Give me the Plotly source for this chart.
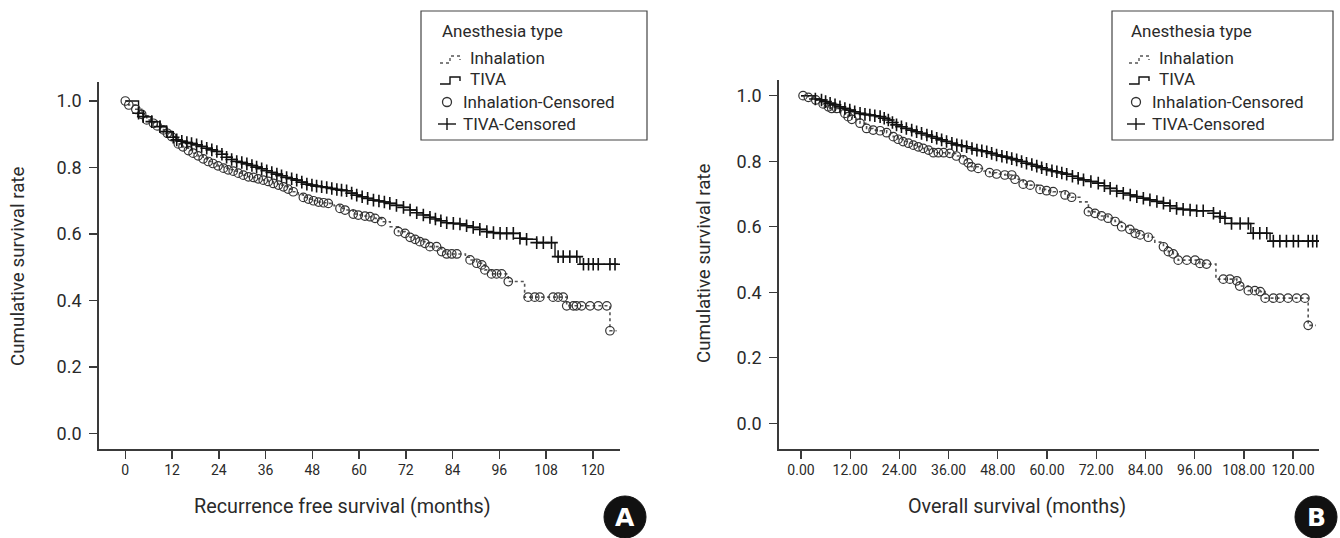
import plotly.graph_objects as go

W, H = 1340, 538

# ---------------- DATA ----------------
x_tick_vals = [0, 12, 24, 36, 48, 60, 72, 84, 96, 108, 120]
x_tick_text_a = ["0", "12", "24", "36", "48", "60", "72", "84", "96", "108", "120"]
x_tick_text_b = ["0.00", "12.00", "24.00", "36.00", "48.00", "60.00", "72.00", "84.00", "96.00", "108.00", "120.00"]
y_tick_vals = [0.0, 0.2, 0.4, 0.6, 0.8, 1.0]
y_tick_text = ["0.0", "0.2", "0.4", "0.6", "0.8", "1.0"]

# Panel A: recurrence free survival — Inhalation censored marks
a_inh_cens_t = [0.0, 0.9, 2.7, 4.2, 5.5, 7.2, 8.2, 9.8, 10.8, 11.9,
                13.6, 14.8, 16.2, 17.4, 18.7, 20.0, 21.3, 22.5, 23.8, 25.2, 26.4, 27.7, 29.0, 30.3,
                31.6, 32.9, 34.1, 35.4, 36.7, 38.0, 39.3, 40.6, 41.8, 43.1,
                45.7, 47.0, 48.3, 49.6, 50.9, 52.1,
                55.1, 56.4, 58.5, 59.8, 61.5, 62.8, 64.1, 65.8,
                70.1, 71.8, 73.1, 74.4, 75.6, 76.9, 78.2,
                79.9, 81.2, 82.5, 83.8, 85.1,
                88.5, 90.2, 91.5, 92.3,
                94.0, 95.3, 96.6, 98.3,
                103.4, 105.1, 106.4, 109.8, 111.1, 112.4,
                113.3, 115.0, 115.8, 117.1, 119.3, 121.4, 123.6, 124.4]
a_inh_cens_s = [1.000, 0.988, 0.975, 0.960, 0.943, 0.933, 0.925, 0.913, 0.903, 0.893,
                0.871, 0.862, 0.851, 0.843, 0.835, 0.826, 0.818, 0.812, 0.805, 0.798, 0.793, 0.789, 0.783, 0.777,
                0.772, 0.770, 0.766, 0.762, 0.758, 0.752, 0.747, 0.742, 0.735, 0.727,
                0.710, 0.705, 0.700, 0.696, 0.694, 0.692,
                0.677, 0.672, 0.660, 0.657, 0.654, 0.652, 0.647, 0.637,
                0.607, 0.602, 0.590, 0.584, 0.577, 0.572, 0.562,
                0.562, 0.547, 0.540, 0.540, 0.540,
                0.522, 0.512, 0.507, 0.492,
                0.480, 0.480, 0.480, 0.457,
                0.410, 0.410, 0.410, 0.410, 0.410, 0.410,
                0.384, 0.384, 0.384, 0.384, 0.384, 0.384, 0.384, 0.309]
# extra step knots (events without censor marks)
a_inh_step_t = [0.0, 44.4, 53.6, 68.0, 87.3, 102.5, 126.1]
a_inh_step_s = [1.000, 0.718, 0.685, 0.622, 0.530, 0.410, 0.309]

# Panel A — TIVA censored marks
a_tiva_cens_t = [3.4, 4.6, 6.8, 8.9, 10.6, 12.3, 13.2, 14.5, 15.8, 17.0,
                 18.3, 19.6, 20.9, 22.2, 23.5, 24.8, 26.0, 27.3, 28.6, 29.9,
                 31.2, 32.5, 33.7, 35.0, 36.3, 37.6, 38.9, 40.1, 41.4, 42.7,
                 44.0, 45.3, 46.6, 47.9, 49.1, 50.4, 51.7, 53.0, 54.3, 55.5,
                 56.8, 58.1, 59.4, 60.8, 62.2, 63.7, 65.1, 66.5, 67.9, 69.6,
                 71.4, 73.1, 74.8, 76.5, 78.2, 79.6, 81.0, 82.5, 84.2, 85.9,
                 87.6, 89.3, 91.0, 92.8, 94.5, 96.2, 97.9, 99.6, 101.3, 103.0,
                 105.6, 107.3, 109.4, 111.1, 112.4, 114.1, 115.9, 117.6, 118.9, 120.1,
                 121.4, 124.4, 125.7]
a_tiva_cens_s = [0.963, 0.953, 0.938, 0.923, 0.908, 0.891, 0.883, 0.879, 0.875, 0.872,
                 0.868, 0.863, 0.858, 0.853, 0.848, 0.840, 0.831, 0.824, 0.818, 0.815,
                 0.811, 0.806, 0.801, 0.796, 0.790, 0.785, 0.780, 0.775, 0.770, 0.766,
                 0.762, 0.756, 0.750, 0.747, 0.744, 0.742, 0.740, 0.737, 0.734, 0.732,
                 0.730, 0.723, 0.717, 0.712, 0.707, 0.702, 0.699, 0.696, 0.692, 0.686,
                 0.680, 0.672, 0.664, 0.657, 0.650, 0.645, 0.640, 0.634, 0.632, 0.630,
                 0.625, 0.620, 0.614, 0.607, 0.604, 0.602, 0.602, 0.602, 0.587, 0.584,
                 0.574, 0.574, 0.574, 0.532, 0.532, 0.532, 0.532, 0.509, 0.509, 0.509,
                 0.509, 0.509, 0.509]
a_tiva_step_t = [0.0, 110.3, 116.7, 126.5]
a_tiva_step_s = [1.000, 0.532, 0.509, 0.509]

# Panel B: overall survival — Inhalation censored marks
b_inh_cens_t = [0.5, 1.8, 3.6, 5.4, 6.7, 7.5, 8.7, 10.7, 11.5, 12.4, 14.4, 16.0, 17.6, 19.3, 20.9, 22.5,
                23.7, 24.9, 26.2, 27.4, 28.6, 29.8, 31.1, 32.3, 33.5, 34.8, 36.3, 37.9, 39.6, 40.8, 41.6, 43.2,
                46.0, 47.7, 49.7, 51.4, 52.2, 54.2, 55.9, 58.3, 59.9, 61.5, 64.4, 66.0,
                70.1, 71.7, 73.3, 74.9, 76.6, 78.2, 80.2, 81.5, 82.7, 84.7,
                88.4, 89.6, 90.8, 92.0, 94.1, 96.1, 97.3, 98.9,
                103.0, 104.6, 106.3, 107.0, 109.1, 110.7, 112.0, 113.2, 115.2, 116.8, 118.8, 120.9, 122.9, 123.7]
b_inh_cens_s = [1.000, 0.995, 0.987, 0.975, 0.966, 0.961, 0.961, 0.946, 0.936, 0.928, 0.916, 0.900, 0.895, 0.893, 0.887, 0.875,
                0.867, 0.860, 0.855, 0.849, 0.844, 0.839, 0.834, 0.826, 0.826, 0.826, 0.824, 0.816, 0.804, 0.795, 0.783, 0.778,
                0.765, 0.761, 0.758, 0.758, 0.745, 0.730, 0.727, 0.714, 0.710, 0.707, 0.697, 0.690,
                0.646, 0.641, 0.633, 0.626, 0.616, 0.600, 0.592, 0.580, 0.575, 0.568,
                0.539, 0.524, 0.517, 0.498, 0.498, 0.498, 0.488, 0.486,
                0.440, 0.440, 0.435, 0.419, 0.405, 0.405, 0.402, 0.382, 0.382, 0.382, 0.382, 0.382, 0.382, 0.299]
b_inh_step_t = [0.0, 44.6, 68.0, 86.3, 101.2, 125.6]
b_inh_step_s = [1.000, 0.770, 0.676, 0.553, 0.440, 0.299]

# Panel B — TIVA censored marks
b_tiva_cens_t = [3.5, 5.0, 6.0, 7.1, 8.3, 9.5, 10.7, 11.9, 13.1, 14.4,
                 15.6, 16.8, 18.0, 19.3, 20.3, 21.3, 22.3, 23.3, 24.5, 25.7,
                 27.0, 28.2, 29.4, 30.7, 31.9, 33.1, 34.3, 35.5, 36.8, 38.0,
                 39.2, 40.4, 41.7, 42.9, 44.1, 45.3, 46.5, 47.7, 49.0, 50.2,
                 51.4, 52.6, 53.8, 55.0, 56.3, 57.5, 58.7, 59.9, 61.2, 62.4,
                 63.6, 64.8, 66.2, 67.6, 68.9, 70.7, 72.5, 74.0, 75.4, 77.0,
                 78.6, 80.3, 81.9, 83.5, 85.1, 86.8, 88.4, 90.0, 91.6, 93.2,
                 94.9, 96.5, 98.1, 100.6, 102.2, 103.4, 105.0, 107.1, 109.1, 110.3,
                 111.9, 113.6, 115.2, 116.8, 118.4, 120.1, 121.3, 123.7, 124.8, 125.8]
b_tiva_cens_s = [0.990, 0.987, 0.982, 0.977, 0.972, 0.966, 0.961, 0.956, 0.951, 0.946,
                 0.943, 0.941, 0.939, 0.936, 0.931, 0.926, 0.918, 0.911, 0.905, 0.900,
                 0.895, 0.890, 0.885, 0.880, 0.875, 0.870, 0.865, 0.860, 0.855, 0.850,
                 0.847, 0.844, 0.839, 0.834, 0.832, 0.829, 0.824, 0.819, 0.815, 0.812,
                 0.808, 0.804, 0.799, 0.794, 0.790, 0.785, 0.780, 0.775, 0.771, 0.768,
                 0.764, 0.760, 0.754, 0.748, 0.743, 0.738, 0.733, 0.725, 0.717, 0.709,
                 0.702, 0.697, 0.692, 0.687, 0.682, 0.677, 0.672, 0.664, 0.656, 0.653,
                 0.651, 0.649, 0.649, 0.641, 0.631, 0.626, 0.610, 0.610, 0.610, 0.580,
                 0.580, 0.580, 0.556, 0.556, 0.556, 0.556, 0.556, 0.556, 0.556, 0.556]
b_tiva_step_t = [0.0, 109.7, 114.4, 126.3]
b_tiva_step_s = [1.000, 0.580, 0.556, 0.556]

legend_title = "Anesthesia type"
legend_labels = ["Inhalation", "TIVA", "Inhalation-Censored", "TIVA-Censored"]

for a, b in [(a_inh_cens_t, a_inh_cens_s), (a_tiva_cens_t, a_tiva_cens_s),
             (b_inh_cens_t, b_inh_cens_s), (b_tiva_cens_t, b_tiva_cens_s),
             (a_inh_step_t, a_inh_step_s), (a_tiva_step_t, a_tiva_step_s),
             (b_inh_step_t, b_inh_step_s), (b_tiva_step_t, b_tiva_step_s)]:
    assert len(a) == len(b)

# ---------------- HELPERS ----------------
def fx(p):
    return p / W

def fy(p):
    return 1 - p / H

def curve(ct, cs, st, ss):
    pts = sorted(zip(list(ct) + list(st), list(cs) + list(ss)), key=lambda q: (q[0], -q[1]))
    return [p[0] for p in pts], [p[1] for p in pts]

FONT = "Roboto"
TXT = "#2a2a2a"
AX = "#3a3a3a"

fig = go.Figure()

panels = [
    dict(xa="x", ya="y", inh=(a_inh_cens_t, a_inh_cens_s, a_inh_step_t, a_inh_step_s),
         tiva=(a_tiva_cens_t, a_tiva_cens_s, a_tiva_step_t, a_tiva_step_s)),
    dict(xa="x2", ya="y2", inh=(b_inh_cens_t, b_inh_cens_s, b_inh_step_t, b_inh_step_s),
         tiva=(b_tiva_cens_t, b_tiva_cens_s, b_tiva_step_t, b_tiva_step_s)),
]

for p in panels:
    it, is_ = curve(*p["inh"])
    tt, ts = curve(*p["tiva"])
    fig.add_trace(go.Scatter(x=it, y=is_, mode="lines", line=dict(shape="hv", color="#555555", width=1.6, dash="dot"),
                             xaxis=p["xa"], yaxis=p["ya"], showlegend=False, hoverinfo="skip"))
    fig.add_trace(go.Scatter(x=tt, y=ts, mode="lines", line=dict(shape="hv", color="#111111", width=1.4),
                             xaxis=p["xa"], yaxis=p["ya"], showlegend=False, hoverinfo="skip"))
    fig.add_trace(go.Scatter(x=p["inh"][0], y=p["inh"][1], mode="markers",
                             marker=dict(symbol="circle-open", size=8.5, color="#333333", line=dict(width=1.2)),
                             xaxis=p["xa"], yaxis=p["ya"], showlegend=False))
    fig.add_trace(go.Scatter(x=p["tiva"][0], y=p["tiva"][1], mode="markers",
                             marker=dict(symbol="cross-thin-open", size=9, color="#111111", line=dict(width=1.6, color="#111111")),
                             xaxis=p["xa"], yaxis=p["ya"], showlegend=False))

xcommon = dict(showline=True, linecolor=AX, linewidth=1.5, ticks="outside", ticklen=8, tickwidth=1.4,
               tickcolor=AX, showgrid=False, zeroline=False, tickvals=x_tick_vals,
               tickfont=dict(family=FONT, size=14, color=TXT))
ycommon = dict(showline=True, linecolor=AX, linewidth=1.5, ticks="outside", ticklen=8, tickwidth=1.4,
               tickcolor=AX, showgrid=False, zeroline=False, tickvals=y_tick_vals, ticktext=y_tick_text,
               tickfont=dict(family=FONT, size=18, color=TXT), ticklabelstandoff=4)

fig.update_layout(
    width=W, height=H, margin=dict(l=0, r=0, t=0, b=0),
    paper_bgcolor="white", plot_bgcolor="white",
    xaxis=dict(domain=[fx(98.7), fx(620)], range=[-6.83, 126.98], ticktext=x_tick_text_a, anchor="y", **xcommon),
    yaxis=dict(domain=[fy(449), fy(82)], range=[-0.0466, 1.0571], anchor="x", **ycommon),
    xaxis2=dict(domain=[fx(778.7), fx(1319)], range=[-5.44, 126.34], ticktext=x_tick_text_b, anchor="y2", **xcommon),
    yaxis2=dict(domain=[fy(449), fy(80)], range=[-0.0784, 1.0479], anchor="x2", **ycommon),
    showlegend=False,
)

ann = []
shapes = []

# axis titles
ann.append(dict(text="Recurrence free survival (months)", x=fx(342), y=fy(506), xref="paper", yref="paper",
                showarrow=False, font=dict(family=FONT, size=19.8, color=TXT), xanchor="center", yanchor="middle"))
ann.append(dict(text="Overall survival (months)", x=fx(1017), y=fy(506), xref="paper", yref="paper",
                showarrow=False, font=dict(family=FONT, size=19.8, color=TXT), xanchor="center", yanchor="middle"))
for xc, yc in [(18, 267), (704, 264)]:
    ann.append(dict(text="Cumulative survival rate", x=fx(xc), y=fy(yc), xref="paper", yref="paper",
                    showarrow=False, textangle=-90, font=dict(family=FONT, size=18.8, color=TXT),
                    xanchor="center", yanchor="middle"))

# legends (drawn manually)
for bx0, bx1, tx in [(421, 647, 440), (1112, 1333, 1129)]:
    shapes.append(dict(type="rect", xref="paper", yref="paper", x0=fx(bx0), x1=fx(bx1), y0=fy(140), y1=fy(11),
                       line=dict(color="#444444", width=1.2), fillcolor="white", layer="above"))
    rows = [31, 58, 79, 102, 124]
    ann.append(dict(text=legend_title, x=fx(tx), y=fy(rows[0]), xref="paper", yref="paper", showarrow=False,
                    font=dict(family=FONT, size=17, color=TXT), xanchor="left", yanchor="middle"))
    # step glyphs
    for r, dash, col in [(rows[1], "dot", "#555555"), (rows[2], "solid", "#111111")]:
        path = "M {} {} L {} {} L {} {} L {} {} L {} {}".format(
            fx(tx), fy(r + 5), fx(tx + 10), fy(r + 5), fx(tx + 10), fy(r - 2),
            fx(tx + 20), fy(r - 2), fx(tx + 20), fy(r + 2))
        shapes.append(dict(type="path", path=path, xref="paper", yref="paper",
                           line=dict(color=col, width=1.4, dash=dash), layer="above"))
    for r, lab in [(rows[1], legend_labels[0]), (rows[2], legend_labels[1])]:
        ann.append(dict(text=lab, x=fx(tx + 28), y=fy(r), xref="paper", yref="paper", showarrow=False,
                        font=dict(family=FONT, size=17, color=TXT), xanchor="left", yanchor="middle"))
    # circle glyph
    cx = tx + 7
    shapes.append(dict(type="circle", xref="paper", yref="paper", x0=fx(cx - 4.5), x1=fx(cx + 4.5),
                       y0=fy(rows[3] + 4.5), y1=fy(rows[3] - 4.5), line=dict(color="#333333", width=1.3), layer="above"))
    # plus glyph
    shapes.append(dict(type="line", xref="paper", yref="paper", x0=fx(cx - 9), x1=fx(cx + 9),
                       y0=fy(rows[4]), y1=fy(rows[4]), line=dict(color="#111111", width=1.4), layer="above"))
    shapes.append(dict(type="line", xref="paper", yref="paper", x0=fx(cx), x1=fx(cx),
                       y0=fy(rows[4] - 6), y1=fy(rows[4] + 6), line=dict(color="#111111", width=1.4), layer="above"))
    for r, lab in [(rows[3], legend_labels[2]), (rows[4], legend_labels[3])]:
        ann.append(dict(text=lab, x=fx(tx + 21), y=fy(r), xref="paper", yref="paper", showarrow=False,
                        font=dict(family=FONT, size=17, color=TXT), xanchor="left", yanchor="middle"))

# panel badges
for cxp, letter in [(625, "A"), (1316, "B")]:
    shapes.append(dict(type="circle", xref="paper", yref="paper", x0=fx(cxp - 21), x1=fx(cxp + 21),
                       y0=fy(538), y1=fy(496), fillcolor="#111111", line=dict(color="#111111", width=1)))
    ann.append(dict(text="<b>" + letter + "</b>", x=fx(cxp), y=fy(517), xref="paper", yref="paper", showarrow=False,
                    font=dict(family="DejaVu Sans", size=25, color="white"), xanchor="center", yanchor="middle"))

fig.update_layout(annotations=ann, shapes=shapes)
fig.write_html("out.html", config={"displayModeBar": False, "staticPlot": True},
               post_script="document.body.style.margin='0px';document.body.style.overflow='hidden';")
